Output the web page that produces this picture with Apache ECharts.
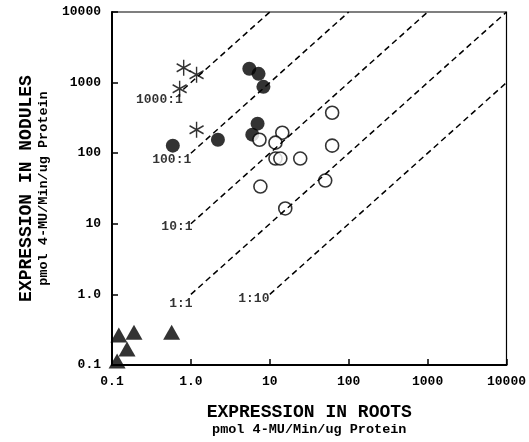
<!DOCTYPE html>
<html>
<head>
<meta charset="utf-8">
<script src="https://cdn.jsdelivr.net/npm/echarts@6/dist/echarts.min.js"></script>
<style>
  html, body { margin: 0; padding: 0; background: #fff; }
  #chart-container { width: 529px; height: 442px; }
</style>
</head>
<body>
<div id="chart-container"></div>
<script>
var dom = document.getElementById('chart-container');
var myChart = echarts.init(dom, null, { renderer: 'canvas' });

// tick labels, one per decade from 0.1 to 10000
var tickLabels = ['0.1', '1.0', '10', '100', '1000', '10000'];

// filled circles
var filledX = [0.59, 2.2, 5.5, 7.2, 8.3, 7.0, 6.0];
var filledY = [128, 155, 1570, 1330, 870, 262, 183];
// asterisks
var starX = [0.81, 1.18, 0.72, 1.18];
var starY = [1620, 1290, 817, 215];
// open circles
var openX = [7.4, 14.4, 11.8, 11.8, 13.6, 24.3, 61.7, 61.7, 50.4, 7.6, 15.7];
var openY = [155, 195, 141, 84, 84, 84, 374, 128, 41, 33.7, 16.5];
// triangles
var triX = [0.122, 0.19, 0.57, 0.155, 0.116];
var triY = [0.265, 0.29, 0.29, 0.168, 0.114];

// ratio lines (start and end points) and their labels
var ratioNames = ['1000:1', '100:1', '10:1', '1:1', '1:10'];
var ratioStart = [[0.8, 800], [1, 100], [1, 10], [1, 1], [10, 1]];
var ratioEnd = [[10, 10000], [100, 10000], [1000, 10000], [10000, 10000], [10000, 1000]];
var ratioLabelAt = [[0.79, 571], [1.01, 81], [1.05, 9.2], [1.05, 0.75], [9.9, 0.86]];

function pairs(xs, ys) {
  return xs.map(function (x, i) { return [x, ys[i]]; });
}

var monoFont = '"Liberation Mono", "DejaVu Sans Mono", monospace';

function tickFmt(v) {
  var i = Math.round(Math.log10(v)) + 1;
  return tickLabels[i] || '';
}

var axisBase = {
  type: 'log',
  logBase: 10,
  min: 0.1,
  max: 10000,
  nameLocation: 'middle',
  axisLine: { lineStyle: { color: '#000', width: 2 } },
  axisTick: { inside: true, length: 6, lineStyle: { color: '#000', width: 1.5 } },
  splitLine: { show: false },
  minorTick: { show: false },
  axisLabel: {
    color: '#000',
    fontFamily: monoFont,
    fontWeight: 'bold',
    fontSize: 13,
    formatter: tickFmt
  },
  nameTextStyle: {
    color: '#000',
    rich: {
      a: { fontFamily: monoFont, fontSize: 18, fontWeight: 'bold', color: '#000', lineHeight: 19 },
      b: { fontFamily: monoFont, fontSize: 13.5, fontWeight: 'bold', color: '#000', lineHeight: 16 }
    }
  }
};

var series = [];

ratioNames.forEach(function (n, i) {
  series.push({
    type: 'line',
    data: [ratioStart[i], ratioEnd[i]],
    symbol: 'none',
    silent: true,
    z: 5,
    lineStyle: { color: '#000', width: 1.5, type: [6, 4] }
  });
});

series.push({
  type: 'scatter',
  data: pairs(filledX, filledY),
  symbol: 'circle',
  symbolSize: 14,
  z: 3,
  itemStyle: { color: '#000' }
});
series.push({
  type: 'scatter',
  data: pairs(openX, openY),
  symbol: 'circle',
  symbolSize: 13,
  z: 4,
  itemStyle: { color: '#fff', borderColor: '#000', borderWidth: 1.6 }
});
series.push({
  type: 'scatter',
  data: pairs(starX, starY),
  symbol: 'path://M0,-1L0,1M-0.87,-0.5L0.87,0.5M-0.87,0.5L0.87,-0.5',
  symbolSize: [14, 16],
  z: 3,
  itemStyle: { color: 'transparent', borderColor: '#000', borderWidth: 1.5 }
});
series.push({
  type: 'scatter',
  data: pairs(triX, triY),
  symbol: 'triangle',
  symbolSize: [17, 15],
  clip: false,
  z: 3,
  itemStyle: { color: '#000' }
});
series.push({
  type: 'scatter',
  data: ratioLabelAt.map(function (p, i) { return { value: p, name: ratioNames[i] }; }),
  symbolSize: 0,
  silent: true,
  z: 6,
  label: {
    show: true,
    position: 'left',
    distance: 0,
    formatter: '{b}',
    color: '#000',
    fontFamily: monoFont,
    fontWeight: 'bold',
    fontSize: 13
  }
});

var option = {
  backgroundColor: '#fff',
  animation: false,
  grid: {
    left: 112,
    top: 12,
    right: 20,
    bottom: 76,
    show: true,
    borderColor: '#000',
    borderWidth: 1.2
  },
  xAxis: Object.assign({}, axisBase, {
    name: '{a|EXPRESSION IN ROOTS}\n{b|pmol 4-MU/Min/ug Protein}',
    nameGap: 38,
    axisLabel: Object.assign({}, axisBase.axisLabel, { margin: 10 })
  }),
  yAxis: Object.assign({}, axisBase, {
    name: '{a|EXPRESSION IN NODULES}\n{b|pmol 4-MU/Min/ug Protein}',
    nameGap: 60,
    nameRotate: 90,
    axisLabel: Object.assign({}, axisBase.axisLabel, { margin: 11 })
  }),
  series: series
};

myChart.setOption(option);
window.addEventListener('resize', myChart.resize);
</script>
</body>
</html>
